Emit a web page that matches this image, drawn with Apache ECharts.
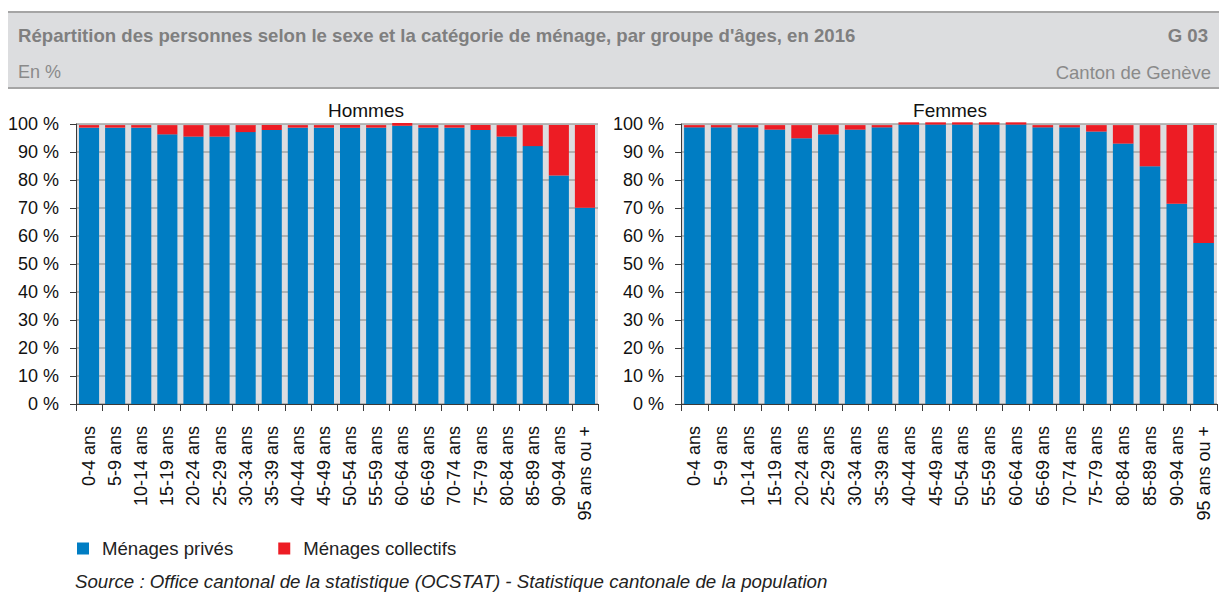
<!DOCTYPE html>
<html>
<head>
<meta charset="utf-8">
<script src="https://cdn.jsdelivr.net/npm/echarts@6/dist/echarts.min.js"></script>
<style>
html,body{margin:0;padding:0;background:#fff;}
#chart{width:1229px;height:593px;}
</style>
</head>
<body>
<div id="chart"></div>
<script>
const categories = ['0-4 ans','5-9 ans','10-14 ans','15-19 ans','20-24 ans','25-29 ans','30-34 ans','35-39 ans','40-44 ans','45-49 ans','50-54 ans','55-59 ans','60-64 ans','65-69 ans','70-74 ans','75-79 ans','80-84 ans','85-89 ans','90-94 ans','95 ans ou +'];
const hommesPrives = [98.7,98.7,98.7,96.3,95.5,95.5,97.1,97.9,98.7,98.7,98.7,98.7,99.4,98.7,98.7,97.9,95.5,92.1,81.6,70.1];
const hommesCollectifs = [0.9,0.9,0.9,3.3,4.1,4.1,2.5,1.7,0.9,0.9,0.9,0.9,1.0,0.9,0.9,1.7,4.1,7.5,18.0,29.5];
const femmesPrives = [98.8,98.8,98.8,98.0,94.9,96.3,98.0,98.8,99.8,99.8,99.8,99.8,99.8,98.8,98.8,97.3,93.0,84.9,71.5,57.5];
const femmesCollectifs = [0.8,0.8,0.8,1.6,4.7,3.3,1.6,0.8,0.8,0.8,0.8,0.8,0.8,0.8,0.8,2.3,6.6,14.7,28.1,42.1];
const seriesNames = ['Ménages privés','Ménages collectifs'];
const yTicks = {min:0, max:100, interval:10};

const FONT = '"Liberation Sans", Arial, Helvetica, sans-serif';
const BLUE = '#007dc3';
const RED = '#ed1c24';

const chart = echarts.init(document.getElementById('chart'), null, {renderer:'svg'});

function xAxis(gi){
  return {
    type:'category', gridIndex:gi, data:categories,
    axisLine:{show:true, lineStyle:{color:'#3a3a3a', width:1}},
    axisTick:{show:true, alignWithLabel:false, length:7, lineStyle:{color:'#3a3a3a'}},
    axisLabel:{rotate:90, interval:0, margin:22, color:'#111', fontFamily:FONT, fontSize:18},
    splitLine:{show:false}
  };
}
function yAxis(gi){
  return {
    type:'value', gridIndex:gi, min:yTicks.min, max:yTicks.max, interval:yTicks.interval,
    axisLine:{show:true, lineStyle:{color:'#3a3a3a', width:1}},
    axisTick:{show:true, length:6, lineStyle:{color:'#3a3a3a'}},
    axisLabel:{formatter:'{value} %', color:'#111', fontFamily:FONT, fontSize:18, margin:17},
    splitLine:{show:true, lineStyle:{color:'#a3a3a3', width:1.5}}
  };
}
function bar(name, gi, data, color){
  return {
    name:name, type:'bar', stack:'s'+gi, xAxisIndex:gi, yAxisIndex:gi,
    data:data, clip:false, barCategoryGap:'23%',
    itemStyle:{color:color}, emphasis:{disabled:true}
  };
}

const option = {
  animation:false,
  backgroundColor:'#ffffff',
  textStyle:{fontFamily:FONT},
  grid:[
    {left:76, width:522, top:124, height:280, show:true, backgroundColor:'#dcdde0', borderWidth:0},
    {left:681, width:536, top:124, height:280, show:true, backgroundColor:'#dcdde0', borderWidth:0}
  ],
  xAxis:[xAxis(0), xAxis(1)],
  yAxis:[yAxis(0), yAxis(1)],
  legend:{
    left:72, top:534, itemWidth:12, itemHeight:12, icon:'rect', itemGap:45,
    data:seriesNames,
    textStyle:{fontFamily:FONT, fontSize:18.6, color:'#222', padding:[0,0,0,8]}
  },
  series:[
    bar(seriesNames[0], 0, hommesPrives, BLUE),
    bar(seriesNames[1], 0, hommesCollectifs, RED),
    bar(seriesNames[0], 1, femmesPrives, BLUE),
    bar(seriesNames[1], 1, femmesCollectifs, RED)
  ],
  graphic:[
    {type:'rect', shape:{x:8, y:12, width:1211, height:76}, style:{fill:'#dcdddf'}, z:-1},
    {type:'line', shape:{x1:8, y1:12, x2:1219, y2:12}, style:{stroke:'#a5a5a5', lineWidth:2}},
    {type:'line', shape:{x1:8, y1:88, x2:1219, y2:88}, style:{stroke:'#a5a5a5', lineWidth:2}},
    {type:'text', style:{x:18, y:35, text:"Répartition des personnes selon le sexe et la catégorie de ménage, par groupe d'âges, en 2016", font:'bold 18.6px '+FONT, fill:'#7f7f7f', textVerticalAlign:'middle'}},
    {type:'text', style:{x:1208, y:35, text:'G 03', font:'bold 18.6px '+FONT, fill:'#7f7f7f', textAlign:'right', textVerticalAlign:'middle'}},
    {type:'text', style:{x:18, y:72, text:'En %', font:'18px '+FONT, fill:'#8a8a8a', textVerticalAlign:'middle'}},
    {type:'text', style:{x:1211, y:72, text:'Canton de Genève', font:'18.5px '+FONT, fill:'#8a8a8a', textAlign:'right', textVerticalAlign:'middle'}},
    {type:'text', style:{x:366, y:110, text:'Hommes', font:'19px '+FONT, fill:'#111', textAlign:'center', textVerticalAlign:'middle'}},
    {type:'text', style:{x:950, y:110, text:'Femmes', font:'19px '+FONT, fill:'#111', textAlign:'center', textVerticalAlign:'middle'}},
    {type:'text', style:{x:75, y:581, text:'Source : Office cantonal de la statistique (OCSTAT) - Statistique cantonale de la population', font:'italic 18.7px '+FONT, fill:'#222', textVerticalAlign:'middle'}}
  ]
};
chart.setOption(option);
</script>
</body>
</html>
